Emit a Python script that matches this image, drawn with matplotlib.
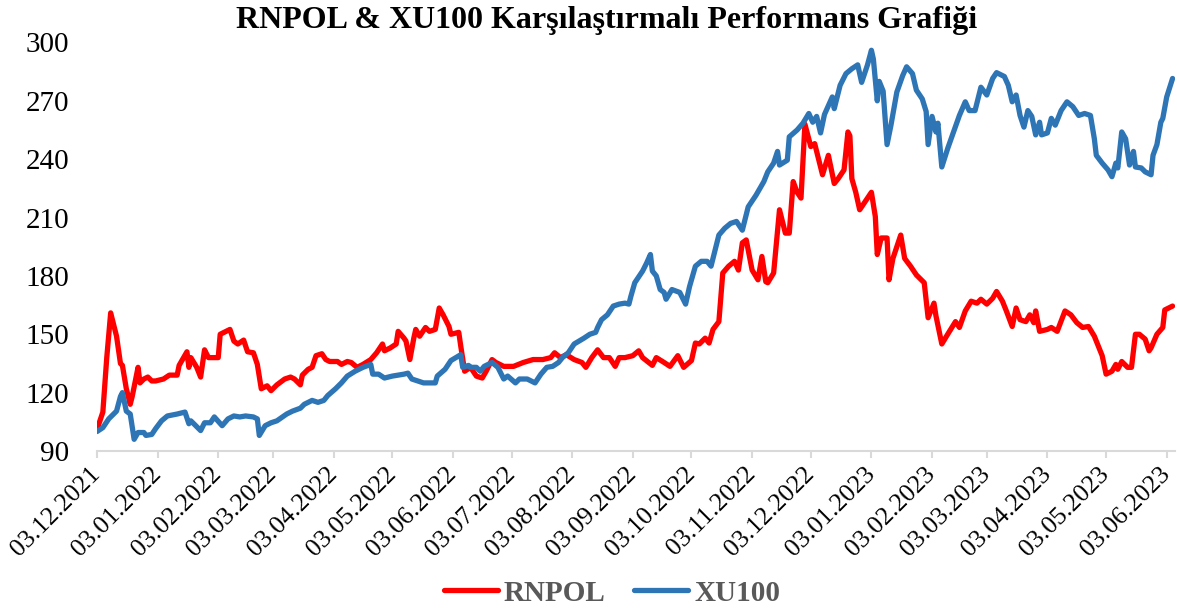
import pandas as pd
import matplotlib as mpl
import matplotlib.pyplot as plt

# trading days counted from the first date
START = pd.Timestamp("2021-12-03")

rnpol_day = [0, 3, 5, 7, 10, 12, 13, 15, 17, 18,
             21, 22, 24, 26, 28, 30, 34, 37, 41, 42,
             46, 47, 48, 51, 53, 55, 57, 59, 62, 63,
             65, 68, 70, 72, 75, 77, 80, 82, 84, 87,
             89, 92, 96, 99, 101, 104, 105, 108, 110, 112,
             115, 117, 119, 123, 125, 128, 130, 133, 136, 140,
             143, 146, 147, 150, 153, 154, 157, 158, 160, 162,
             163, 165, 168, 170, 173, 175, 177, 180, 181, 185,
             186, 188, 191, 194, 197, 199, 202, 204, 208, 213,
             218, 223, 228, 232, 234, 237, 240, 244, 248, 250,
             253, 256, 259, 262, 265, 267, 270, 274, 277, 279,
             284, 286, 290, 293, 297, 300, 304, 306, 308, 311,
             313, 315, 318, 320, 323, 326, 328, 330, 332, 335,
             338, 340, 342, 343, 346, 349, 352, 354, 356, 358,
             360, 362, 365, 367, 371, 374, 377, 379, 382, 384,
             385, 386, 388, 390, 394, 396, 398, 399, 401, 404,
             405, 407, 411, 413, 416, 419, 423, 425, 428, 429,
             432, 435, 439, 441, 444, 447, 450, 452, 455, 458,
             460, 463, 465, 468, 470, 472, 475, 477, 479, 480,
             482, 486, 488, 491, 495, 498, 501, 504, 507, 510,
             512, 514, 516, 519, 521, 522, 524, 527, 529, 531,
             533, 536, 538, 539, 542, 545, 546, 550]
rnpol_val = [101, 110, 138, 161, 149, 135, 134, 122, 114, 118,
             133, 125, 127, 128, 126, 126, 127, 129, 129, 134,
             141, 133, 138, 133, 128, 142, 138, 138, 138, 150,
             151, 152.5, 146.5, 145, 147, 141, 140.5, 134.5, 122, 123.5,
             121, 124, 127, 128, 127, 124, 129, 132, 133, 139,
             140, 137, 136, 136, 134.5, 136, 135.5, 133, 134.5, 137,
             140.5, 145, 141.5, 143, 145, 151.5, 148, 146.5, 137, 148,
             152.5, 149, 153.5, 151.5, 152.5, 163.5, 160, 154, 150, 151,
             144, 131, 133, 128.5, 127.5, 131, 137, 135.5, 133.5, 133.5,
             135.5, 137, 137, 138, 140.5, 138, 139.5, 137, 135.5, 133,
             138, 142, 138, 138, 133.5, 138, 138, 139, 141.5, 138,
             134, 138, 135.5, 133.5, 139, 133, 136.5, 145.5, 145, 148,
             145.5, 152.5, 156.5, 181.5, 185, 187.5, 183, 197, 198.5, 183,
             178, 190, 177, 176.5, 181.5, 214, 202, 202, 228.5, 223,
             220, 258, 246.5, 248, 232, 242, 227.5, 230, 234.5, 254,
             252, 230, 223, 214, 220, 223, 210.5, 191, 199.5, 199.5,
             178, 189, 201, 189, 185, 180.5, 176.5, 158.5, 166, 159.5,
             145, 150, 156.5, 153.5, 162, 167, 166, 168, 165.5, 168.5,
             172, 167, 162, 154, 163.5, 157.5, 156.5, 160, 156, 162,
             151.5, 152.5, 153.5, 151.5, 162, 160, 156, 153.5, 154, 149,
             144, 139, 129.5, 131, 134.5, 132, 136, 133, 133, 150,
             150, 147.5, 141.5, 143, 150, 153.5, 162.5, 164.5]

xu100_day = [0, 3, 6, 10, 12, 13, 15, 17, 19, 21,
             24, 25, 28, 30, 33, 36, 41, 45, 47, 48,
             53, 55, 58, 60, 64, 67, 70, 73, 76, 80,
             82, 83, 86, 89, 92, 97, 100, 104, 106, 110,
             113, 116, 118, 122, 125, 128, 132, 136, 140, 141,
             144, 147, 151, 157, 159, 161, 164, 167, 170, 173,
             174, 178, 181, 186, 187, 190, 191, 194, 196, 198,
             202, 205, 208, 210, 214, 216, 220, 224, 227, 230,
             233, 236, 238, 241, 244, 249, 252, 255, 256, 258,
             261, 264, 267, 270, 272, 273, 275, 279, 281, 283,
             284, 286, 288, 290, 291, 294, 298, 301, 303, 306,
             309, 312, 314, 318, 321, 324, 327, 330, 333, 337,
             341, 343, 346, 348, 349, 353, 354, 358, 361, 364,
             366, 368, 370, 372, 376, 377, 380, 383, 386, 389,
             391, 394, 396, 397, 399, 400, 402, 404, 406, 409,
             412, 414, 417, 419, 422, 424, 425, 427, 429, 430,
             432, 435, 438, 441, 444, 446, 449, 452, 455, 458,
             460, 464, 466, 468, 470, 472, 474, 476, 478, 480,
             482, 483, 486, 488, 490, 493, 496, 499, 502, 505,
             508, 510, 511, 514, 517, 519, 521, 522, 524, 526,
             528, 530, 531, 534, 536, 539, 540, 542, 544, 545,
             547, 550]
xu100_val = [100, 102, 106.5, 110.5, 118, 120, 110.5, 109, 96, 99.5,
             99.5, 98, 98.5, 101.5, 105.5, 108, 109, 110, 104, 105.5,
             100.5, 104.5, 104.5, 107.5, 103, 106.5, 108, 107.5, 108, 107.5,
             106.5, 98, 103, 104.5, 105.5, 109, 110.5, 112, 114, 116,
             115, 116, 118.5, 122, 125, 128.5, 131, 133, 134.5, 129.5,
             129.5, 127.5, 128.5, 129.5, 130, 127, 126, 125, 125, 125,
             128.5, 132, 136.5, 139.5, 133, 134, 133, 133, 131, 133.5,
             135.5, 133, 127, 128.5, 125, 127, 127, 125, 129.5, 133,
             133.5, 135.5, 138, 140.5, 145, 148, 150, 151, 153.5, 157.5,
             160, 164.5, 165.5, 166, 165.5, 169.5, 176.5, 182.5, 186.5, 191,
             182.5, 180, 173, 171.5, 168, 173, 171.5, 165.5, 174.5, 185,
             187.5, 187.5, 185, 201, 204.5, 207, 208, 203.5, 215.5, 221.5,
             228.5, 233.5, 238, 244, 237, 239.5, 251.5, 255, 258.5, 263.5,
             259, 262, 253.5, 263, 272, 266, 278, 284, 286.5, 288.5,
             279.5, 288.5, 296, 291.5, 270, 280, 275, 247.5, 257.5, 274.5,
             283, 287.5, 284, 275.5, 271, 264.5, 247.5, 262, 254, 258.5,
             236, 245.5, 254, 262.5, 269.5, 265, 265, 277, 273, 281.5,
             284.5, 282.5, 278, 269.5, 273, 262.5, 256.5, 265, 262, 252.5,
             259, 252.5, 253.5, 261, 257.5, 265, 269.5, 267, 262.5, 263.5,
             262.5, 250.5, 242, 238, 234.5, 231, 238, 235.5, 254, 250.5,
             237, 244, 236, 235.5, 233.5, 232, 242, 247.5, 259, 261,
             272, 281.5]

tick_labels = ["03.12.2021", "03.01.2022", "03.02.2022", "03.03.2022",
               "03.04.2022", "03.05.2022", "03.06.2022", "03.07.2022",
               "03.08.2022", "03.09.2022", "03.10.2022", "03.11.2022",
               "03.12.2022", "03.01.2023", "03.02.2023", "03.03.2023",
               "03.04.2023", "03.05.2023", "03.06.2023"]
y_ticks = [90, 120, 150, 180, 210, 240, 270, 300]

mpl.rcParams["font.family"] = ["Liberation Serif", "DejaVu Serif"]

rn_dates = START + pd.to_timedelta(rnpol_day, unit="D")
xu_dates = START + pd.to_timedelta(xu100_day, unit="D")
tick_dates = pd.to_datetime(tick_labels, format="%d.%m.%Y")

fig = plt.figure(figsize=(11.77, 6.14), dpi=100)
ax = fig.add_axes([0.0824, 0.2655, 0.9155, 0.6653])

ax.plot(rn_dates, rnpol_val, color="#FF0000", lw=3.8,
        solid_joinstyle="round", solid_capstyle="round", label="RNPOL")
ax.plot(xu_dates, xu100_val, color="#2E75B6", lw=3.8,
        solid_joinstyle="round", solid_capstyle="round", label="XU100")

ax.set_xlim(START, START + pd.Timedelta(days=551))
ax.set_ylim(90, 300)
ax.set_yticks(y_ticks)
ax.set_yticklabels([str(v) for v in y_ticks], fontsize=21)
ax.set_xticks(tick_dates)
ax.set_xticklabels(tick_labels, rotation=45, ha="right", va="center",
                   rotation_mode="anchor", fontsize=18.5)

for side in ["top", "right", "left"]:
    ax.spines[side].set_visible(False)
ax.spines["bottom"].set_color("#D9D9D9")
ax.spines["bottom"].set_linewidth(1.5)
ax.tick_params(axis="x", colors="#D9D9D9", labelcolor="black",
               length=5, width=1.5, pad=9)
ax.tick_params(axis="y", length=0, pad=20)

fig.text(0.515, 0.966, "RNPOL & XU100 Karşılaştırmalı Performans Grafiği",
         ha="center", va="center", fontsize=23, fontweight="bold")

fig.legend(loc="center", bbox_to_anchor=(0.52, 0.034), ncol=2,
           frameon=False, handlelength=1.85, handletextpad=0.2,
           columnspacing=1.0, labelcolor="#595959",
           prop={"weight": "bold", "size": 21})

fig.savefig("out.png", dpi=100)
